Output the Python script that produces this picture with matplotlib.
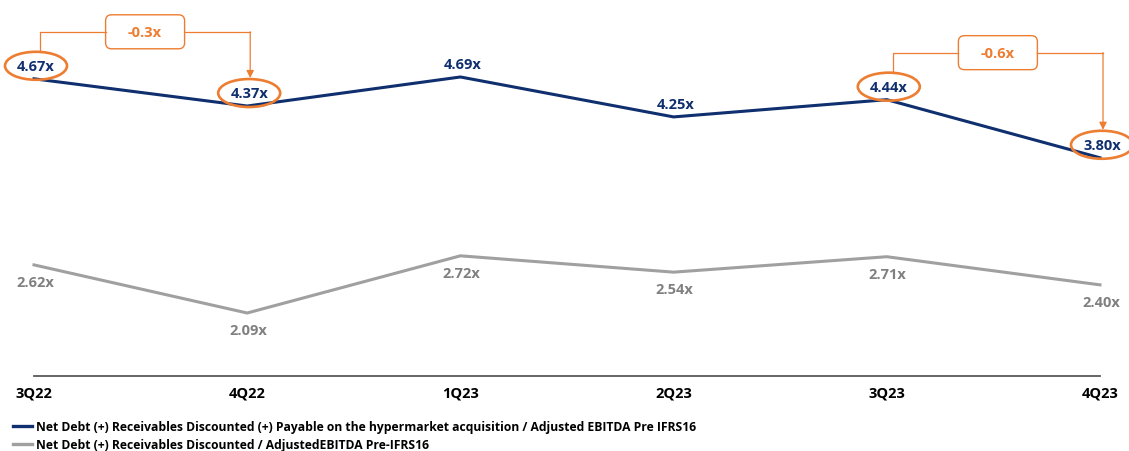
import numpy as np
import matplotlib.pyplot as plt
from matplotlib.patches import FancyBboxPatch, FancyArrowPatch, Ellipse
from matplotlib.lines import Line2D
from matplotlib.transforms import IdentityTransform

quarters = ['3Q22', '4Q22', '1Q23', '2Q23', '3Q23', '4Q23']
with_payable = [4.67, 4.37, 4.69, 4.25, 4.44, 3.80]
without_payable = [2.62, 2.09, 2.72, 2.54, 2.71, 2.40]
series_names = ['Net Debt (+) Receivables Discounted (+) Payable on the hypermarket acquisition / Adjusted EBITDA Pre IFRS16',
                'Net Debt (+) Receivables Discounted / AdjustedEBITDA Pre-IFRS16']
circled = [0, 1, 4, 5]
deltas = [(0, 1, '-0.3x'), (4, 5, '-0.6x')]

BLUE = '#0f2f6e'
GREY = '#a0a0a0'
GREY_TXT = '#808080'
ORANGE = '#ed7d31'

plt.rcParams['font.family'] = ['Open Sans', 'DejaVu Sans']

W, H = 1129, 452
fig = plt.figure(figsize=(W / 100, H / 100), dpi=100)
ax = fig.add_axes([34 / W, (H - 377) / H, 1066 / W, 377 / H])

x = np.arange(len(quarters))
ax.plot(x, with_payable, color=BLUE, lw=2.2, clip_on=False, label=series_names[0])
ax.plot(x, without_payable, color=GREY, lw=2.2, clip_on=False, label=series_names[1])
ax.set_xlim(0, len(quarters) - 1)
ax.set_ylim(1.396, 5.549)

for s in ['top', 'left', 'right']:
    ax.spines[s].set_visible(False)
ax.spines['bottom'].set_color('#595959')
ax.spines['bottom'].set_linewidth(1.3)
ax.set_yticks([])
ax.set_xticks(x)
ax.set_xticklabels(quarters, fontsize=10.5, fontweight='bold', color='black')
ax.tick_params(axis='x', length=0, pad=7)

# value labels
for i, v in enumerate(with_payable):
    ax.annotate(f'{v:.2f}x', (i, v), xytext=(2, 13), textcoords='offset pixels',
                ha='center', va='center', fontsize=10.5, fontweight='bold',
                color=BLUE, annotation_clip=False, zorder=5)
    if i in circled:
        px, py = ax.transData.transform((i, v))
        fig.add_artist(Ellipse((px + 2, py + 13), 62, 28, fc='none', ec=ORANGE,
                               lw=1.9, transform=IdentityTransform()))
for i, v in enumerate(without_payable):
    ax.annotate(f'{v:.2f}x', (i, v), xytext=(1, -17), textcoords='offset pixels',
                ha='center', va='center', fontsize=10.5, fontweight='bold',
                color=GREY_TXT, annotation_clip=False)

# change brackets
for a, b, txt in deltas:
    xa, ya = ax.transData.transform((a, with_payable[a]))
    xb, yb = ax.transData.transform((b, with_payable[b]))
    xa += 6
    xb += 3
    top = ya + 47
    mid = (xa + xb) / 2
    bw, bh = 79, 34
    fig.add_artist(Line2D([xa, xa, mid - bw / 2], [ya + 27, top, top],
                          color=ORANGE, lw=0.9, transform=IdentityTransform()))
    fig.add_artist(Line2D([mid + bw / 2, xb], [top, top],
                          color=ORANGE, lw=0.9, transform=IdentityTransform()))
    fig.add_artist(FancyArrowPatch((xb, top), (xb, yb + 28), arrowstyle='-|>',
                                   mutation_scale=11, color=ORANGE, lw=0.9,
                                   shrinkA=0, shrinkB=0, transform=IdentityTransform()))
    fig.add_artist(FancyBboxPatch((mid - bw / 2, top - bh / 2), bw, bh,
                                  boxstyle='round,pad=0,rounding_size=6',
                                  fc='white', ec=ORANGE, lw=1.0,
                                  transform=IdentityTransform()))
    fig.text(mid / W, top / H, txt, ha='center', va='center', fontsize=10.5,
             fontweight='bold', color=ORANGE)

handles = [Line2D([], [], color=BLUE, lw=2.4), Line2D([], [], color=GREY, lw=2.4)]
fig.legend(handles, series_names, loc='upper left', bbox_to_anchor=(13 / W, 1 - 421 / H),
           frameon=False, prop={'size': 8.7, 'weight': 'bold'}, handlelength=1.55,
           handletextpad=0.35, labelspacing=0.42, borderaxespad=0, borderpad=0)

fig.savefig('out.png', dpi=100)
